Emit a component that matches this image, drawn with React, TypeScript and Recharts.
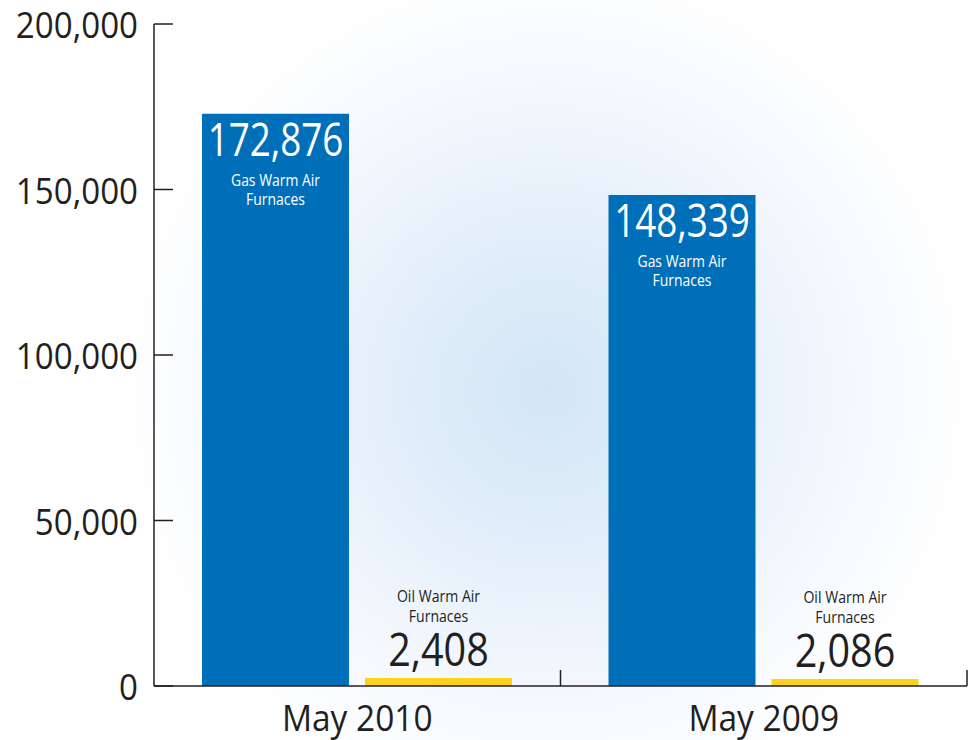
import React from 'react';
import { BarChart, Bar, XAxis, YAxis, LabelList } from 'recharts';

const categories = ['May 2010', 'May 2009'];
const gasValues = [172876, 148339];
const oilValues = [2408, 2086];
const yTicks = [0, 50000, 100000, 150000, 200000];

const data = categories.map((name, i) => ({ name, gas: gasValues[i], oil: oilValues[i] }));

const FONT = '"Open Sans", sans-serif';
const DARK = '#231f20';
const fmt = (v: number) => v.toLocaleString('en-US');

const YTick = (props: any) => {
  const { x, y, payload } = props;
  return (
    <g>
      <line x1={x + 16} x2={x + 35} y1={y} y2={y} stroke={DARK} strokeWidth={1.5} />
      <text
        transform={`translate(${x},${y + 14}) scale(0.92,1)`}
        textAnchor="end"
        fontFamily={FONT}
        fontSize={36}
        fill={DARK}
      >
        {fmt(payload.value)}
      </text>
    </g>
  );
};

const XTick = (props: any) => {
  const { x, y, payload } = props;
  const off = payload.offset ?? 0;
  return (
    <g>
      <line x1={x + off} x2={x + off} y1={y} y2={y - 16} stroke={DARK} strokeWidth={1.5} />
      <text
        transform={`translate(${x},${y + 45}) scale(0.93,1)`}
        textAnchor="middle"
        fontFamily={FONT}
        fontSize={36}
        fill={DARK}
      >
        {payload.value}
      </text>
    </g>
  );
};

const GasLabel = (props: any) => {
  const { x, y, width, value } = props;
  const cx = x + width / 2;
  return (
    <g fontFamily={FONT} fill="#ffffff">
      <text transform={`translate(${cx},${y + 42}) scale(0.8,1)`} textAnchor="middle" fontSize={46}>
        {fmt(value)}
      </text>
      <text transform={`translate(${cx},${y + 72}) scale(0.9,1)`} textAnchor="middle" fontSize={15.5}>
        Gas Warm Air
      </text>
      <text transform={`translate(${cx},${y + 91}) scale(0.9,1)`} textAnchor="middle" fontSize={15.5}>
        Furnaces
      </text>
    </g>
  );
};

const OilLabel = (props: any) => {
  const { x, y, width, value } = props;
  const cx = x + width / 2;
  return (
    <g fontFamily={FONT} fill={DARK}>
      <text transform={`translate(${cx},${y - 12}) scale(0.86,1)`} textAnchor="middle" fontSize={46}>
        {fmt(value)}
      </text>
      <text transform={`translate(${cx},${y - 76}) scale(0.88,1)`} textAnchor="middle" fontSize={16}>
        Oil Warm Air
      </text>
      <text transform={`translate(${cx},${y - 56}) scale(0.88,1)`} textAnchor="middle" fontSize={16}>
        Furnaces
      </text>
    </g>
  );
};

export default function App() {
  return (
    <div
      style={{
        position: 'absolute',
        left: 0,
        top: 0,
        width: 977,
        height: 740,
        background:
          'radial-gradient(circle 430px at 547px 390px, #d3e6f6 0%, #e4effa 40%, #f4f8fd 70%, #ffffff 100%)',
      }}
    >
      <BarChart
        width={977}
        height={740}
        data={data}
        margin={{ top: 24, right: 10, bottom: 0, left: 0 }}
        barCategoryGap={48}
        barGap={16}
      >
        <XAxis
          dataKey="name"
          height={54}
          tickLine={false}
          tickSize={0}
          tickMargin={0}
          axisLine={{ stroke: DARK, strokeWidth: 1.5 }}
          tick={<XTick />}
          interval={0}
        />
        <YAxis
          width={154}
          domain={[0, 200000]}
          ticks={yTicks}
          tickLine={false}
          tickSize={0}
          tickMargin={16}
          axisLine={{ stroke: DARK, strokeWidth: 1.5 }}
          tick={<YTick />}
          interval={0}
        />
        <Bar dataKey="gas" fill="#006fb9" isAnimationActive={false}>
          <LabelList dataKey="gas" content={<GasLabel />} />
        </Bar>
        <Bar dataKey="oil" fill="#fcd21c" isAnimationActive={false}>
          <LabelList dataKey="oil" content={<OilLabel />} />
        </Bar>
      </BarChart>
    </div>
  );
}
